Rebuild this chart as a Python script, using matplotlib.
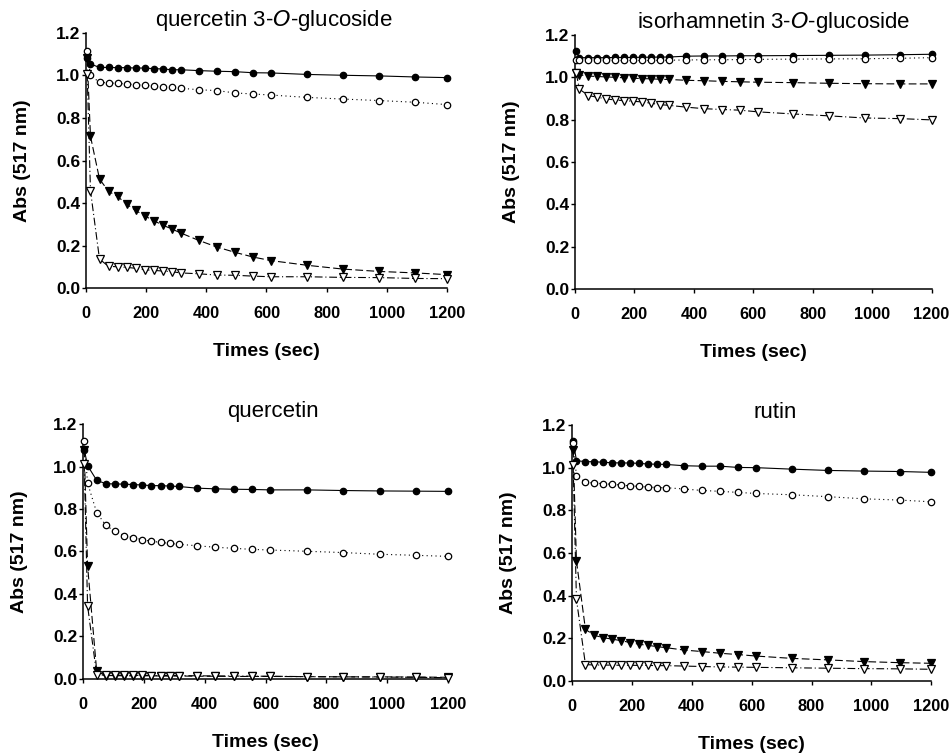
import matplotlib
matplotlib.use("Agg")
import matplotlib.pyplot as plt

plt.rcParams['font.family'] = ['Liberation Sans', 'DejaVu Sans']

# time points (sec)
times = [4, 15, 45, 75, 105, 135, 165, 195, 225, 255, 285, 315, 375, 435, 495,
         555, 615, 735, 855, 975, 1095, 1200]

titles = ["quercetin 3-O-glucoside", "isorhamnetin 3-O-glucoside", "quercetin", "rutin"]

# quercetin 3-O-glucoside
q3g_filled_circle = [1.08, 1.054, 1.038, 1.038, 1.037, 1.037, 1.035, 1.035, 1.032, 1.031, 1.027,
                     1.027, 1.023, 1.020, 1.018, 1.013, 1.012, 1.005, 1.001, 0.998, 0.993, 0.990]
q3g_open_circle = [1.114, 1.0, 0.968, 0.965, 0.963, 0.960, 0.957, 0.954, 0.951, 0.946, 0.944,
                   0.940, 0.933, 0.929, 0.918, 0.913, 0.908, 0.897, 0.889, 0.882, 0.874, 0.863]
q3g_filled_tri = [1.08, 0.714, 0.513, 0.455, 0.431, 0.395, 0.365, 0.340, 0.317, 0.296, 0.278,
                  0.259, 0.224, 0.193, 0.168, 0.146, 0.129, 0.107, 0.089, 0.078, 0.071, 0.063]
q3g_open_tri = [1.009, 0.458, 0.136, 0.102, 0.100, 0.097, 0.093, 0.086, 0.083, 0.080, 0.077,
                0.071, 0.067, 0.061, 0.060, 0.056, 0.053, 0.053, 0.050, 0.049, 0.045, 0.044]

# isorhamnetin 3-O-glucoside
i3g_filled_circle = [1.125, 1.093, 1.093, 1.093, 1.093, 1.094, 1.094, 1.094, 1.095, 1.095, 1.096,
                     1.096, 1.100, 1.101, 1.101, 1.102, 1.102, 1.103, 1.104, 1.105, 1.107, 1.109]
i3g_open_circle = [1.08, 1.080, 1.080, 1.080, 1.080, 1.080, 1.080, 1.080, 1.080, 1.080, 1.081,
                   1.081, 1.082, 1.083, 1.083, 1.084, 1.085, 1.086, 1.087, 1.088, 1.090, 1.093]
i3g_filled_tri = [1.022, 1.012, 1.006, 1.004, 1.002, 1.000, 0.998, 0.996, 0.994, 0.993, 0.991,
                  0.990, 0.986, 0.984, 0.981, 0.979, 0.977, 0.975, 0.972, 0.970, 0.969, 0.969]
i3g_open_tri = [1.019, 0.944, 0.914, 0.906, 0.898, 0.893, 0.890, 0.887, 0.884, 0.878, 0.871,
                0.868, 0.859, 0.852, 0.848, 0.845, 0.837, 0.827, 0.818, 0.808, 0.805, 0.799]

# quercetin
q_filled_circle = [1.08, 1.004, 0.935, 0.919, 0.918, 0.917, 0.915, 0.913, 0.910, 0.910, 0.908,
                   0.906, 0.898, 0.895, 0.893, 0.892, 0.890, 0.890, 0.887, 0.885, 0.884, 0.883]
q_open_circle = [1.12, 0.922, 0.783, 0.723, 0.695, 0.675, 0.665, 0.656, 0.648, 0.643, 0.638,
                 0.634, 0.627, 0.620, 0.615, 0.610, 0.607, 0.601, 0.595, 0.587, 0.582, 0.577]
q_filled_tri = [1.08, 0.533, 0.036, 0.016, 0.016, 0.015, 0.015, 0.015, 0.015, 0.014, 0.014,
                0.014, 0.013, 0.013, 0.012, 0.012, 0.012, 0.011, 0.010, 0.010, 0.009, 0.008]
q_open_tri = [1.012, 0.345, 0.019, 0.018, 0.018, 0.017, 0.017, 0.017, 0.016, 0.016, 0.016,
              0.016, 0.015, 0.014, 0.014, 0.013, 0.013, 0.011, 0.010, 0.009, 0.008, 0.006]

# rutin
r_filled_circle = [1.126, 1.033, 1.028, 1.028, 1.025, 1.023, 1.022, 1.022, 1.020, 1.017, 1.016,
                   1.015, 1.009, 1.007, 1.007, 1.001, 1.000, 0.993, 0.987, 0.984, 0.982, 0.978]
r_open_circle = [1.115, 0.962, 0.931, 0.928, 0.925, 0.922, 0.918, 0.915, 0.912, 0.909, 0.907,
                 0.906, 0.900, 0.893, 0.889, 0.884, 0.879, 0.873, 0.864, 0.854, 0.848, 0.840]
r_filled_tri = [1.084, 0.563, 0.242, 0.214, 0.203, 0.196, 0.189, 0.180, 0.172, 0.167, 0.161,
                0.156, 0.145, 0.138, 0.130, 0.124, 0.117, 0.106, 0.099, 0.091, 0.086, 0.083]
r_open_tri = [1.012, 0.383, 0.077, 0.075, 0.075, 0.074, 0.074, 0.074, 0.073, 0.073, 0.072,
              0.072, 0.070, 0.068, 0.066, 0.065, 0.064, 0.062, 0.060, 0.058, 0.057, 0.055]

panels = [
    (q3g_filled_circle, q3g_open_circle, q3g_filled_tri, q3g_open_tri),
    (i3g_filled_circle, i3g_open_circle, i3g_filled_tri, i3g_open_tri),
    (q_filled_circle, q_open_circle, q_filled_tri, q_open_tri),
    (r_filled_circle, r_open_circle, r_filled_tri, r_open_tri),
]

# axes rectangles [left, bottom, width, height] in figure fraction
rects = [
    [0.0903, 0.6175, 0.3792, 0.3387],
    [0.6040, 0.6162, 0.3745, 0.3373],
    [0.0872, 0.0983, 0.3834, 0.3386],
    [0.6008, 0.0956, 0.3775, 0.3400],
]
title_x = [0.521, 0.557, 0.520, 0.565]

xticks = [0, 200, 400, 600, 800, 1000, 1200]
yticks = [0.0, 0.2, 0.4, 0.6, 0.8, 1.0, 1.2]

styles = [
    dict(color='black', marker='o', markerfacecolor='black', linestyle='-', ms=4.6),
    dict(color='black', marker='o', markerfacecolor='white', linestyle=(0, (1, 3)), ms=4.6),
    dict(color='black', marker='v', markerfacecolor='black', linestyle=(0, (7, 3)), ms=5.2),
    dict(color='black', marker='v', markerfacecolor='white', linestyle=(0, (7, 2.5, 1, 2.5)), ms=5.2),
]

fig = plt.figure(figsize=(9.52, 7.53), dpi=100)

for i, (series, rect) in enumerate(zip(panels, rects)):
    ax = fig.add_axes(rect)
    for vals, st in zip(series, styles):
        ax.plot(times, vals, lw=0.8, markeredgewidth=0.9, markeredgecolor='black',
                clip_on=False, zorder=3, **st)
    ax.set_xlim(0, 1200)
    ax.set_ylim(0, 1.2)
    ax.set_xticks(xticks)
    ax.set_yticks(yticks)
    ax.set_xticklabels([str(v) for v in xticks], fontsize=11.8, fontweight='bold')
    ax.set_yticklabels([f"{v:.1f}" for v in yticks], fontsize=12.5, fontweight='bold')
    ax.tick_params(axis='x', direction='out', length=3, width=1, pad=10)
    ax.tick_params(axis='y', direction='out', length=3, width=1, pad=1)
    for s in ['top', 'right']:
        ax.spines[s].set_visible(False)
    for s in ['left', 'bottom']:
        ax.spines[s].set_linewidth(1.1)
    ax.set_xlabel("Times (sec)", fontsize=14, fontweight='bold', labelpad=16)
    ax.set_ylabel("Abs (517 nm)", fontsize=14, fontweight='bold', labelpad=18)
    t = titles[i]
    if "3-O" in t:
        t = t.replace("3-O", r"3-$\mathit{O}$")
    ax.set_title(t, fontsize=16, x=title_x[i], pad=5)

fig.savefig("out.png", dpi=100)
